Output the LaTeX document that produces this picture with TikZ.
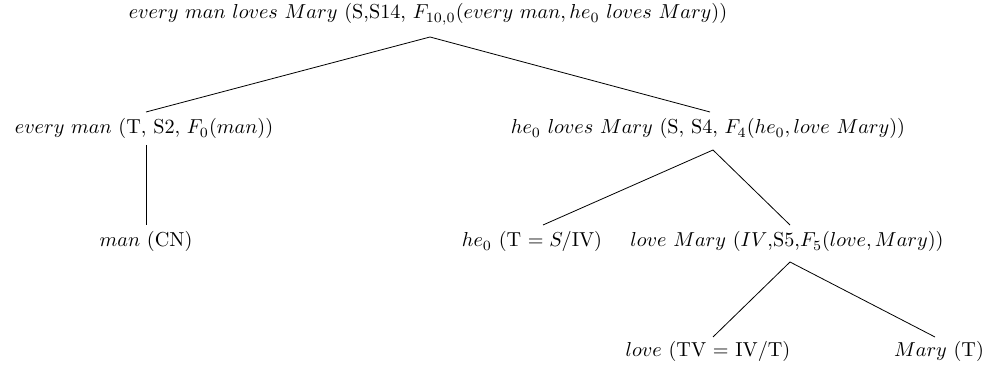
\documentclass[tikz,border=0pt]{standalone}
\usetikzlibrary{calc}
\begin{document}
\begin{tikzpicture}[x=0.495pt,y=-0.495pt,
  lbl/.style={anchor=base,inner sep=0pt},
  edge/.style={draw=black,line width=0.4pt}]
\useasboundingbox (0,0) rectangle (994,373);
\node[lbl] (root) at (428,19) {$every\ man\ loves\ Mary$ (S,S14, $F_{10,0}(every\ man, he_0\ loves\ Mary)$)};
\node[lbl] (em) at (144,134) {$every\ man$ (T, S2, $F_0(man)$)};
\node[lbl] (hlm) at (708,134) {$he_0\ loves\ Mary$ (S, S4, $F_4(he_0, love\ Mary)$)};
\node[lbl] (man) at (146,247) {$man$ (CN)};
\node[lbl] (he) at (532,247) {$he_0$ (T $=S/$IV)};
\node[lbl] (lm) at (787,247) {$love\ Mary$ ($IV$,S5,$F_5(love, Mary)$)};
\node[lbl] (love) at (708,357) {$love$ (TV $=$ IV/T)};
\node[lbl] (mary) at (939,357) {$Mary$ (T)};
\draw[edge] ($(root.base)+(2,18)$) -- ($(em.base)+(2,-22)$);
\draw[edge] ($(root.base)+(2,18)$) -- ($(hlm.base)+(2,-22)$);
\draw[edge] ($(em.base)+(2,11)$) -- ($(man.base)+(0,-22)$);
\draw[edge] ($(hlm.base)+(5,16)$) -- ($(he.base)+(11,-22)$);
\draw[edge] ($(hlm.base)+(5,16)$) -- ($(lm.base)+(3,-22)$);
\draw[edge] ($(lm.base)+(3,15)$) -- ($(love.base)+(5,-20)$);
\draw[edge] ($(lm.base)+(3,15)$) -- ($(mary.base)+(-4,-20)$);
\end{tikzpicture}
\end{document}
